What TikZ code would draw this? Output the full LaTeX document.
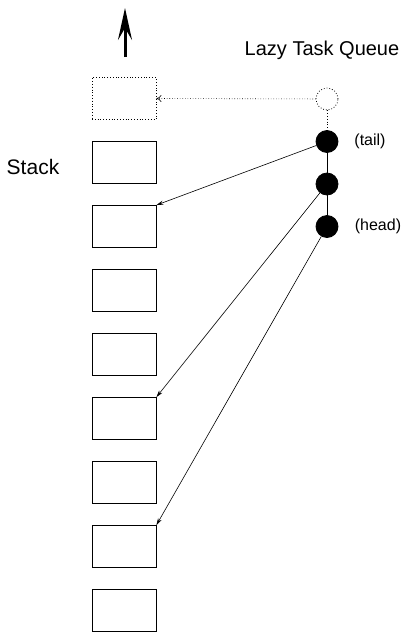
\documentclass[tikz,border=0pt]{standalone}
\usepackage{fontspec}
\setmainfont{Liberation Sans}
\usetikzlibrary{arrows.meta}
\tikzstyle{frame}=[draw, line width=0.8pt, minimum width=64pt, minimum height=42pt, inner sep=0pt]
\tikzstyle{slot}=[circle, draw, line width=0.8pt, minimum size=22pt, inner sep=0pt]
\tikzstyle{link}=[line width=0.6pt, -{Stealth[length=7pt, width=4pt]}]

\begin{document}
\begin{tikzpicture}[x=1pt, y=-1pt]
\useasboundingbox (0,0) rectangle (417,635);
% Stack frames
    \node[frame, dotted] (s0) at (124,98.5) {};
    \node[frame] (s1) at (124,162.5) {};
    \node[frame] (s2) at (124,226.5) {};
    \node[frame] (s3) at (124,290.5) {};
    \node[frame] (s4) at (124,354.5) {};
    \node[frame] (s5) at (124,418.5) {};
    \node[frame] (s6) at (124,482.5) {};
    \node[frame] (s7) at (124,546.5) {};
    \node[frame] (s8) at (124,610.5) {};
% Growth direction
    \coordinate (up0) at (125,57);
    \coordinate (up1) at (125,8);
    \draw[line width=3pt, -{Stealth[length=32pt, width=14pt, inset=12pt]}] (up0) -- (up1);
% Queue entries
    \node[slot, dotted] (q0) at (327,99) {};
    \node[slot, fill=black] (q1) at (327,141.5) {};
    \node[slot, fill=black] (q2) at (327,184) {};
    \node[slot, fill=black] (q3) at (327,226.5) {};
    \draw[line width=0.8pt, dotted] (q0) -- (q1);
    \draw[line width=0.8pt] (q1) -- (q2) -- (q3);
% Labels
    \node (stack) at (33,167) {\fontsize{21}{24}\selectfont Stack};
    \node (queue) at (322,50) {\fontsize{20}{24}\selectfont Lazy Task Queue};
    \node (tail) at (370,141) {\fontsize{16}{19}\selectfont (tail)};
    \node (head) at (378,226) {\fontsize{16}{19}\selectfont (head)};
% Pointers into the stack
    \draw[link, dotted, -{To[length=5pt, width=7pt]}] (q0) -- (s0.east);
    \draw[link] (q1) -- (s2.north east);
    \draw[link] (q2) -- (s5.north east);
    \draw[link] (q3) -- (s7.north east);
\end{tikzpicture}
\end{document}
